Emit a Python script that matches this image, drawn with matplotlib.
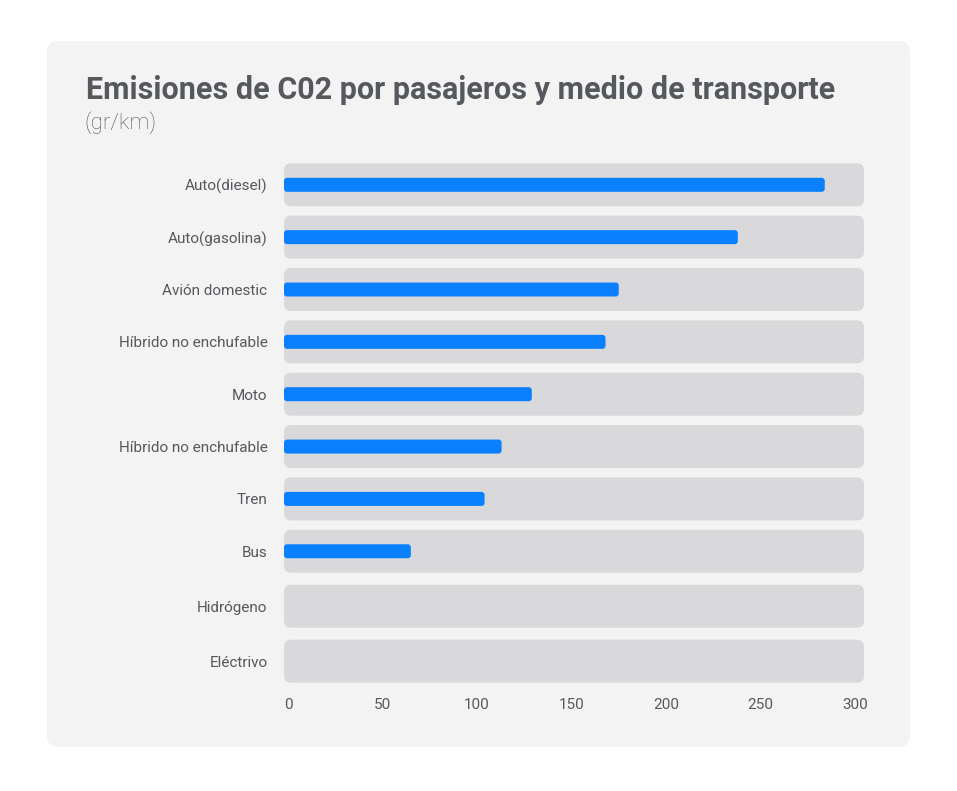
import matplotlib
matplotlib.use("Agg")
import matplotlib.pyplot as plt
from matplotlib.patches import FancyBboxPatch

categories = ["Auto(diesel)", "Auto(gasolina)", "Avión domestic", "Híbrido no enchufable",
              "Moto", "Híbrido no enchufable", "Tren", "Bus", "Hidrógeno", "Eléctrivo"]
values = [284, 238, 175, 168, 129, 113, 104, 65, 0, 0]
xticks = [0, 50, 100, 150, 200, 250, 300]

W, H = 957, 791
CARD = "#f3f3f3"
TRACK = "#d9d9db"
BLUE = "#0a80ff"
TEXT = "#55585d"

plt.rcParams['font.family'] = ['Roboto', 'DejaVu Sans']

fig = plt.figure(figsize=(W / 100, H / 100), dpi=100)
fig.patch.set_facecolor("white")

# background card
card = FancyBboxPatch((47 / W, 1 - 747 / H), 863 / W, 706 / H,
                      boxstyle="round,pad=0,rounding_size=0.012",
                      transform=fig.transFigure, facecolor=CARD, edgecolor="none",
                      mutation_aspect=W / H, zorder=-1)
fig.patches.append(card)

fig.text(86 / W, 1 - 90 / H, "Emisiones de C02 por pasajeros y medio de transporte",
         fontsize=22, fontweight="bold", color=TEXT, va="center", ha="left")
fig.text(84 / W, 1 - 123 / H, "(gr/km)", fontsize=16, fontweight="light",
         color=TEXT, va="center", ha="left")

# axes placement in pixels
left_px, right_px = 280, 868
top_px, bot_px = 156, 690
ax = fig.add_axes([left_px / W, 1 - bot_px / H, (right_px - left_px) / W, (bot_px - top_px) / H])
ax.set_facecolor("none")
ax.set_zorder(2)

pxx = 567 / 300  # px per x unit
x0 = -(288 - left_px) / pxx
x1 = 300 + (right_px - 855) / pxx
ax.set_xlim(x0, x1)

# slightly wider gaps for the last rows, as in the original layout
ypos = [0, 1, 2, 3, 4, 5, 6, 7, 8.05, 9.1]
ax.set_ylim(ypos[-1] + 0.55, -0.55)
pxy = (bot_px - top_px) / (ypos[-1] + 1.1)

aspect = pxx / pxy
track_start = -(288 - 284) / pxx
track_end = (864 - 288) / pxx
track_h = 43 / pxy
bar_h = 14 / pxy

for y, v in zip(ypos, values):
    ax.add_patch(FancyBboxPatch((track_start, y - track_h / 2), track_end - track_start, track_h,
                                boxstyle="round,pad=0,rounding_size=%f" % (7 / pxx),
                                mutation_aspect=aspect, facecolor=TRACK, edgecolor="none", zorder=1))
    if v > 0:
        ax.add_patch(FancyBboxPatch((track_start, y - bar_h / 2), v - track_start, bar_h,
                                    boxstyle="round,pad=0,rounding_size=%f" % (3 / pxx),
                                    mutation_aspect=aspect, facecolor=BLUE, edgecolor="none", zorder=2))

ax.set_yticks(ypos)
ax.set_yticklabels(categories, fontsize=11, color=TEXT)
ax.set_xticks(xticks)
ax.set_xticklabels([str(t) for t in xticks], fontsize=11, color=TEXT)
ax.tick_params(axis="y", length=0, pad=9)
ax.tick_params(axis="x", length=0, pad=6)
for s in ax.spines.values():
    s.set_visible(False)

fig.savefig("out.png", dpi=100, facecolor="white")
